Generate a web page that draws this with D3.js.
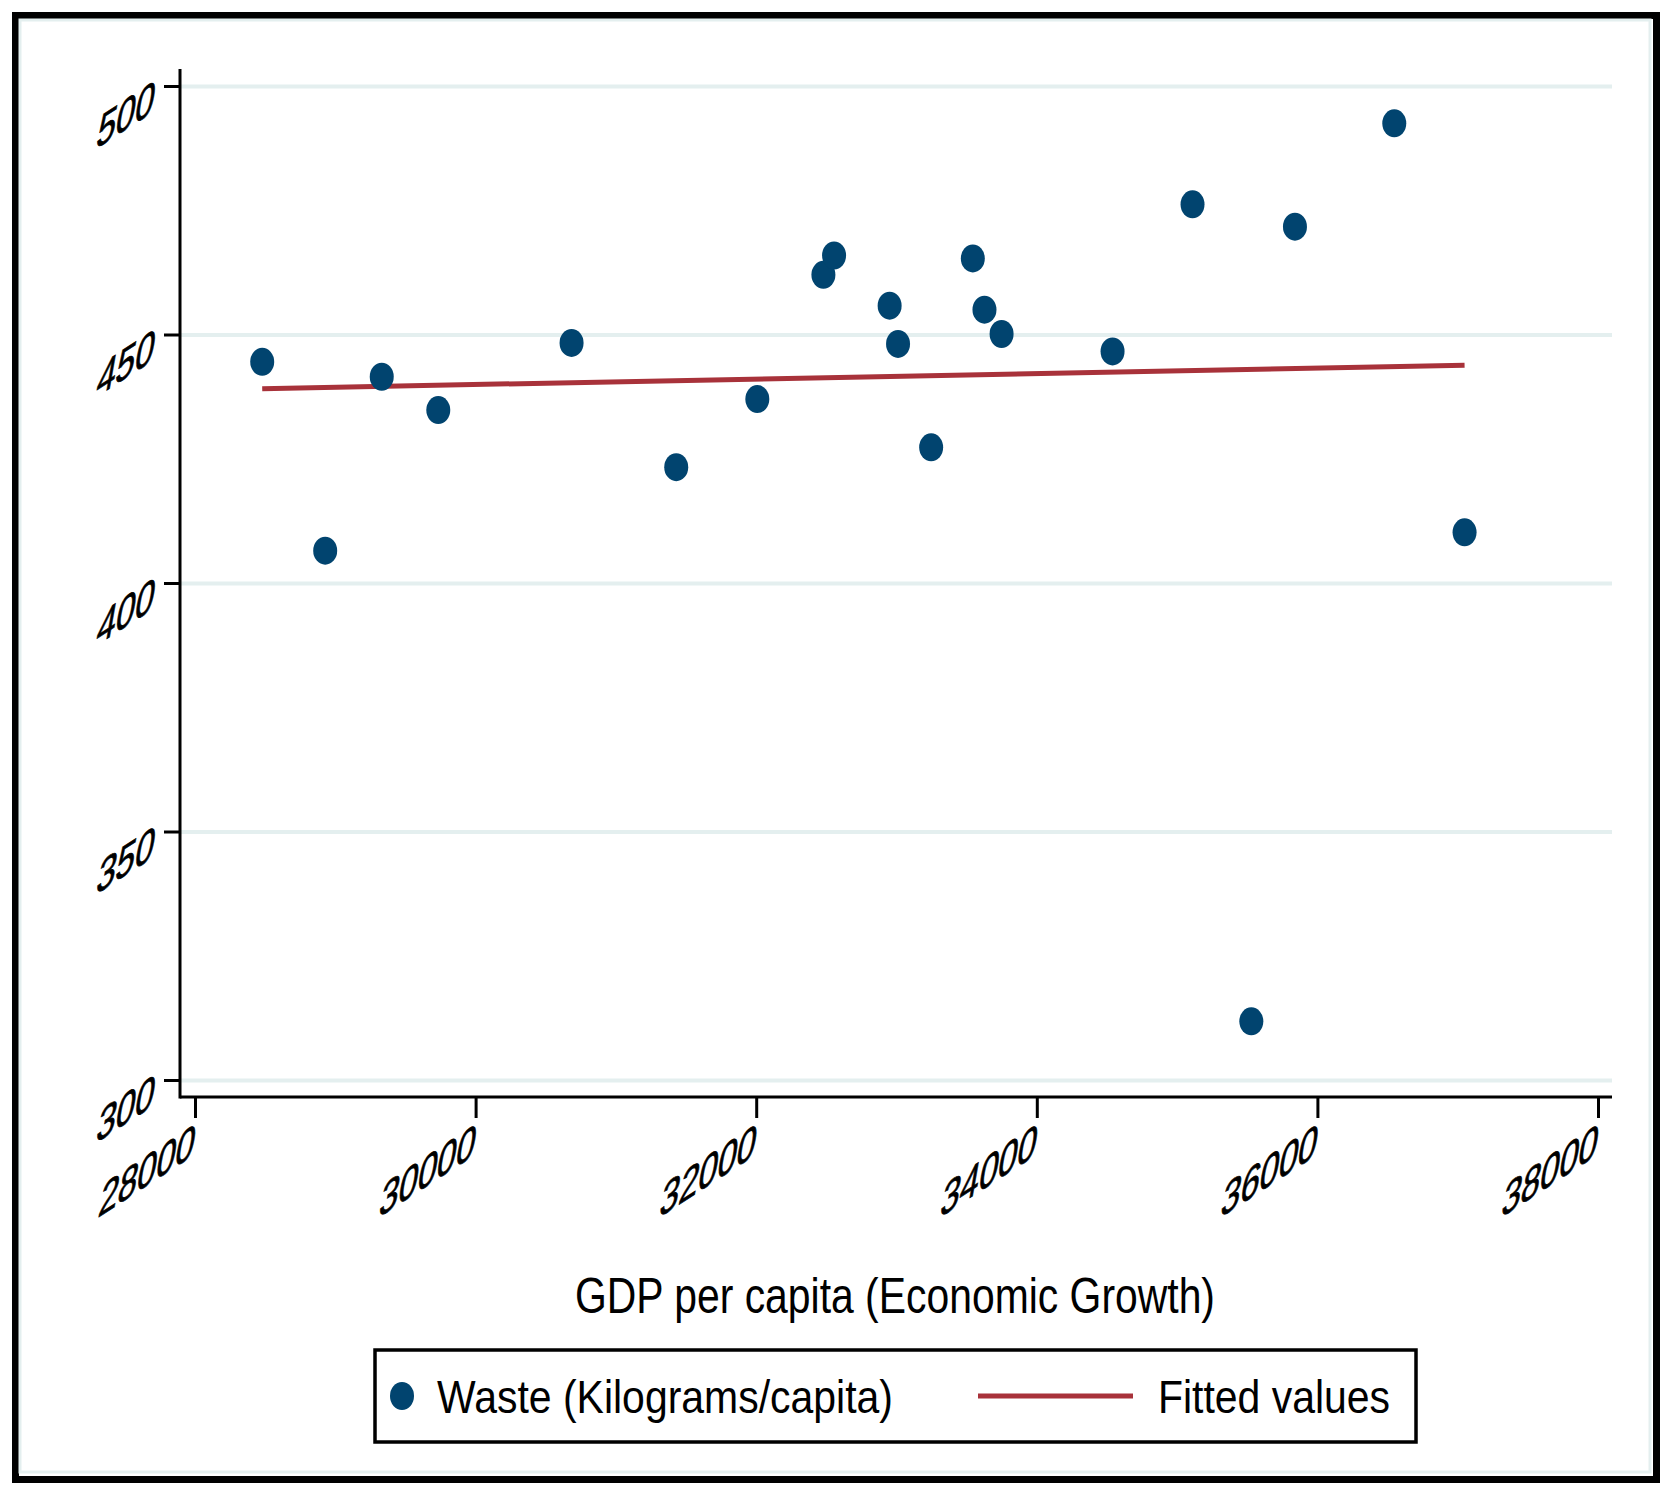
<!DOCTYPE html>
<html>
<head>
<meta charset="utf-8">
<script src="https://cdn.jsdelivr.net/npm/d3@7"></script>
<style>
  body { margin: 0; background: #fff; }
  text { font-family: "Liberation Sans", Arial, sans-serif; fill: #000; }
</style>
</head>
<body>
<div id="chart"></div>
<script>
// GDP per capita vs waste
const gdp = [28479, 28928, 29331, 29734, 30684, 31430, 32008, 32479, 32555, 32951, 33011,
  33247, 33544, 33627, 33749, 34540, 35110, 35529, 35840, 36548, 37049];
const waste = [444.5, 406.5, 441.5, 434.8, 448.3, 423.3, 437.0, 462.0, 465.9, 455.8, 448.1,
  427.3, 465.3, 455.0, 450.1, 446.6, 476.2, 311.8, 471.7, 492.5, 410.2];
const fitX = [28479, 37049];
const fitY = [439.1, 443.8];
const xTicks = [28000, 30000, 32000, 34000, 36000, 38000];
const yTicks = [300, 350, 400, 450, 500];
const xTitle = "GDP per capita (Economic Growth)";
const legendLabels = ["Waste (Kilograms/capita)", "Fitted values"];

const W = 1671, H = 1493;
const navy = "#01446f", maroon = "#a8323a", gridColor = "#e4efef";
const plot = {left: 180, right: 1612, top: 69, bottom: 1097};

const svg = d3.select("#chart").append("svg")
  .attr("width", W).attr("height", H);

// outer frame
svg.append("rect")
  .attr("x", 15.5).attr("y", 15.5).attr("width", 1641).attr("height", 1464)
  .attr("fill", "#fff").attr("stroke", "#000").attr("stroke-width", 7);
svg.append("rect")
  .attr("x", 20).attr("y", 20).attr("width", 1630).attr("height", 1452)
  .attr("fill", "none").attr("stroke", gridColor).attr("stroke-width", 3);

const x = d3.scaleLinear().domain([28000, 38000]).range([195, 1598]);
const y = d3.scaleLinear().domain([300, 500]).range([1080, 86]);

// horizontal grid
svg.append("g")
  .attr("transform", `translate(${plot.left},0)`)
  .call(d3.axisLeft(y).tickValues(yTicks).tickSize(-(plot.right - plot.left)).tickFormat(""))
  .call(g => g.select(".domain").remove())
  .call(g => g.selectAll("line").attr("stroke", gridColor).attr("stroke-width", 4));

// slanted tick text: baseline rising ~33deg, glyphs nearly upright
const slant = "0.688,-0.447,-0.174,0.985";

const styleTickText = (sel, dx, dy) => sel
  .attr("x", null).attr("y", null).attr("dy", null)
  .attr("text-anchor", "end")
  .attr("font-size", 50)
  .attr("font-family", "Liberation Sans, Arial, sans-serif")
  .attr("fill", "#000")
  .attr("stroke", "#000").attr("stroke-width", 0.8)
  .attr("transform", `matrix(${slant},${dx},${dy})`);

const yAxis = svg.append("g")
  .attr("transform", `translate(${plot.left},0)`)
  .call(d3.axisLeft(y).tickValues(yTicks).tickSize(16).tickFormat(d3.format("d")));
yAxis.select(".domain").remove();
yAxis.selectAll("line").attr("stroke", "#000").attr("stroke-width", 3);
yAxis.selectAll("text").call(styleTickText, -28, 26);

const xAxis = svg.append("g")
  .attr("transform", `translate(0,${plot.bottom})`)
  .call(d3.axisBottom(x).tickValues(xTicks).tickSize(21).tickFormat(d3.format("d")));
xAxis.select(".domain").remove();
xAxis.selectAll("line").attr("stroke", "#000").attr("stroke-width", 3);
xAxis.selectAll("text").call(styleTickText, -3, 59);

// axis lines
svg.append("line")
  .attr("x1", plot.left).attr("x2", plot.left)
  .attr("y1", plot.top).attr("y2", plot.bottom + 1.5)
  .attr("stroke", "#000").attr("stroke-width", 3);
svg.append("line")
  .attr("x1", plot.left).attr("x2", plot.right)
  .attr("y1", plot.bottom).attr("y2", plot.bottom)
  .attr("stroke", "#000").attr("stroke-width", 3);

// fitted line
const fit = fitX.map((d, i) => [d, fitY[i]]);
svg.append("path")
  .datum(fit)
  .attr("d", d3.line().x(d => x(d[0])).y(d => y(d[1])))
  .attr("fill", "none").attr("stroke", maroon).attr("stroke-width", 5);

// points
svg.append("g").selectAll("ellipse")
  .data(gdp.map((d, i) => [d, waste[i]]))
  .join("ellipse")
  .attr("cx", d => x(d[0])).attr("cy", d => y(d[1]))
  .attr("rx", 12).attr("ry", 14)
  .attr("fill", navy);

// x title
svg.append("text")
  .attr("x", 895).attr("y", 1313)
  .attr("text-anchor", "middle")
  .attr("font-size", 50)
  .attr("textLength", 640).attr("lengthAdjust", "spacingAndGlyphs")
  .text(xTitle);

// legend
const legend = svg.append("g");
legend.append("rect")
  .attr("x", 375).attr("y", 1350).attr("width", 1041).attr("height", 92)
  .attr("fill", "#fff").attr("stroke", "#000").attr("stroke-width", 3.5);
legend.append("ellipse")
  .attr("cx", 402).attr("cy", 1396).attr("rx", 12).attr("ry", 14).attr("fill", navy);
legend.append("text")
  .attr("x", 437).attr("y", 1413).attr("font-size", 47)
  .attr("textLength", 456).attr("lengthAdjust", "spacingAndGlyphs")
  .text(legendLabels[0]);
legend.append("line")
  .attr("x1", 978).attr("x2", 1133).attr("y1", 1396).attr("y2", 1396)
  .attr("stroke", maroon).attr("stroke-width", 5);
legend.append("text")
  .attr("x", 1158).attr("y", 1413).attr("font-size", 47)
  .attr("textLength", 232).attr("lengthAdjust", "spacingAndGlyphs")
  .text(legendLabels[1]);
</script>
</body>
</html>
